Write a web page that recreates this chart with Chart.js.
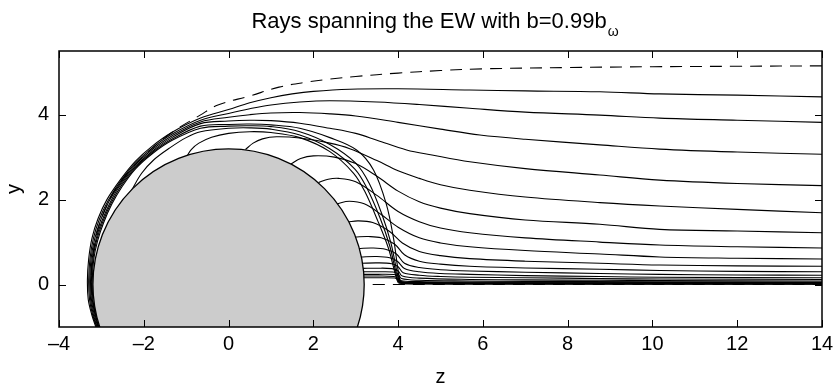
<!DOCTYPE html>
<html>
<head>
<meta charset="utf-8">
<script src="https://cdn.jsdelivr.net/npm/chart.js@4"></script>
<style>
  html, body { margin: 0; padding: 0; background: #fff; }
</style>
</head>
<body>
<canvas id="rays" width="837" height="392"></canvas>
<script>
// axis ticks
const zTicks = [-4, -2, 0, 2, 4, 6, 8, 10, 12, 14];
const yTicks = [0, 2, 4];
const throatRadius = 3.2;

// rays that go over the top and wrap round the left side
const rayL1 = [[14,4.42],[12,4.46],[10.17,4.49],[8.76,4.54],[7,4.56],[5.69,4.58],[4,4.61],[2.86,4.6],[2,4.55],[1.5,4.49],[1,4.4],[0.5,4.28],[0,4.12],
  [-0.66,3.92],[-1.34,3.58],[-1.8,3.26],[-2.2,2.9],[-2.55,2.47],[-2.87,2.0],[-3.08,1.55],[-3.22,1.1],[-3.3,0.6],[-3.33,0.1],[-3.31,-0.35],[-3.23,-0.7],[-3.13,-1.0],[-3.09,-1.1]];
const rayL2 = [[14,3.82],[12,3.87],[10.17,3.92],[8.76,3.99],[7,4.06],[5.69,4.15],[4.5,4.24],[3.5,4.3],[2.39,4.33],[1.68,4.3],[1,4.23],[0.5,4.14],[0,4.03],
  [-0.66,3.87],[-1.34,3.54],[-1.8,3.22],[-2.2,2.86],[-2.55,2.43],[-2.84,1.98],[-3.05,1.53],[-3.19,1.08],[-3.27,0.6],[-3.3,0.1],[-3.28,-0.35],[-3.21,-0.7],[-3.11,-1.0],[-3.07,-1.1]];
const rayL3 = [[14,3.07],[12,3.12],[10.17,3.19],[8.76,3.29],[7,3.42],[5.93,3.52],[5,3.66],[4,3.82],[3,3.97],[2.39,4.02],[1.68,4.05],[1,4.04],[0.5,4.0],[0,3.94],
  [-0.66,3.83],[-1.34,3.5],[-1.8,3.18],[-2.2,2.82],[-2.55,2.39],[-2.82,1.96],[-3.02,1.51],[-3.16,1.07],[-3.245,0.6],[-3.275,0.1],[-3.255,-0.35],[-3.19,-0.7],[-3.1,-1.0],[-3.06,-1.1]];
const rayL4 = [[14,2.33],[12,2.38],[10.17,2.46],[8.76,2.58],[7,2.73],[5.69,2.89],[4.8,3.05],[4.2,3.17],[3.5,3.4],[3,3.56],[2.39,3.68],[1.68,3.8],[1,3.86],[0.5,3.87],[0,3.85],
  [-0.66,3.79],[-1.34,3.46],[-1.8,3.14],[-2.2,2.78],[-2.55,2.35],[-2.79,1.94],[-2.99,1.49],[-3.13,1.06],[-3.22,0.6],[-3.255,0.1],[-3.235,-0.35],[-3.17,-0.7],[-3.08,-1.0],[-3.04,-1.1]];

// near-axis rays that jump up at z = 4
const rayS1 = [[14,0.03],[10,0.032],[6,0.036],[4.5,0.042],[4.15,0.055],[4.05,0.09],[3.99,0.4],[3.89,1.1],[3.72,1.9],[3.42,2.7],[3.02,3.17],[2.39,3.46],[1.68,3.68],[1,3.76],[0.5,3.78],[0,3.77],
  [-0.66,3.73],[-1.34,3.42],[-1.8,3.11],[-2.2,2.75],[-2.53,2.33],[-2.77,1.92],[-2.97,1.47],[-3.11,1.05],[-3.2,0.6],[-3.235,0.1],[-3.215,-0.35],[-3.15,-0.7],[-3.07,-1.0],[-3.03,-1.1]];
const rayS2 = [[14,0.02],[10,0.022],[6,0.026],[4.5,0.031],[4.13,0.043],[4.03,0.08],[3.96,0.36],[3.83,0.98],[3.62,1.65],[3.32,2.38],[3.0,2.86],[2.39,3.3],[1.68,3.6],[1,3.72],[0.5,3.74],[0,3.73],
  [-0.66,3.68],[-1.34,3.39],[-1.8,3.08],[-2.2,2.72],[-2.51,2.31],[-2.75,1.9],[-2.95,1.45],[-3.09,1.03],[-3.18,0.6],[-3.215,0.1],[-3.2,-0.35],[-3.14,-0.7],[-3.06,-1.0],[-3.02,-1.1]];
const rayS3 = [[14,0.012],[10,0.014],[6,0.017],[4.5,0.021],[4.11,0.032],[4.01,0.065],[3.94,0.32],[3.8,0.92],[3.57,1.58],[3.26,2.28],[2.98,2.72],[2.39,3.2],[1.68,3.52],[1,3.66],[0.5,3.69],[0,3.68],
  [-0.66,3.6],[-1.0,3.46],[-1.4,3.21],[-1.75,2.95],[-2.05,2.62],[-2.3,2.2]];
const rayS4 = [[14,0.006],[10,0.008],[6,0.01],[4.5,0.013],[4.09,0.022],[4.0,0.05],[3.92,0.3],[3.77,0.86],[3.52,1.5],[3.21,2.2],[2.95,2.62],[2.39,3.13],[1.68,3.46],[1,3.58],[0.5,3.6],[0,3.56],
  [-0.4,3.47],[-0.7,3.33],[-0.88,3.18],[-0.97,3.04]];

// rays that end on the right side of the throat
const rayL5 = [[14,1.69],[12,1.77],[10.17,1.85],[8.76,1.93],[7,2.06],[5.69,2.22],[5,2.35],[4.5,2.5],[4,2.68],[3.5,2.92],[2.86,3.2],[2.39,3.33],[1.68,3.45],[1.13,3.48],[0.8,3.43],[0.58,3.33],[0.4,3.18]];
const rayL6 = [[14,1.22],[12,1.26],[10.17,1.3],[8.76,1.42],[7,1.52],[5.69,1.67],[5,1.8],[4.5,1.95],[4,2.2],[3.5,2.55],[3,2.85],[2.5,3.0],[2,3.03],[1.7,2.97],[1.47,2.84]];
const rayL7 = [[14,0.86],[12,0.89],[10.17,0.93],[8.76,1.0],[7,1.1],[5.69,1.22],[5,1.33],[4.5,1.48],[4,1.72],[3.5,2.1],[3,2.42],[2.6,2.5],[2.35,2.48],[2.12,2.4]];
const rayL8 = [[14,0.6],[12,0.62],[10.17,0.65],[8.76,0.72],[7,0.8],[5.69,0.89],[5,0.98],[4.5,1.1],[4,1.35],[3.6,1.65],[3.2,1.9],[2.85,1.96],[2.55,1.9]];
const rayL9 = [[14,0.43],[12,0.44],[10.17,0.46],[8.76,0.5],[7,0.55],[5.69,0.61],[5,0.68],[4.5,0.78],[4.1,0.98],[3.8,1.25],[3.4,1.46],[3.05,1.5],[2.82,1.47]];
const rayL10 = [[14,0.3],[12,0.31],[10.17,0.33],[8.76,0.36],[7,0.39],[5.69,0.43],[5,0.48],[4.5,0.55],[4.15,0.7],[3.92,0.95],[3.6,1.1],[3.3,1.13],[2.98,1.12]];
const rayL11 = [[14,0.22],[12,0.225],[10.17,0.24],[8.76,0.26],[7,0.29],[5.69,0.32],[5,0.35],[4.5,0.4],[4.15,0.5],[3.96,0.72],[3.7,0.83],[3.4,0.86],[3.06,0.85]];
const rayL12 = [[14,0.16],[10.17,0.17],[8.76,0.19],[7,0.21],[5.69,0.24],[5,0.26],[4.5,0.3],[4.15,0.38],[3.98,0.55],[3.8,0.63],[3.5,0.66],[3.11,0.65]];
const rayL13 = [[14,0.12],[10.17,0.13],[8.76,0.14],[7,0.16],[5.69,0.17],[5,0.19],[4.5,0.22],[4.12,0.28],[4,0.42],[3.85,0.49],[3.5,0.51],[3.14,0.5]];
const rayL14 = [[14,0.085],[10.17,0.095],[8.76,0.1],[7,0.11],[5.69,0.12],[4.5,0.15],[4.1,0.2],[4,0.32],[3.85,0.375],[3.5,0.385],[3.16,0.38]];
const rayL15 = [[14,0.06],[10,0.065],[7,0.075],[5.69,0.085],[4.5,0.1],[4.08,0.14],[4,0.25],[3.88,0.295],[3.5,0.3],[3.17,0.3]];
const rayL16 = [[14,0.045],[10,0.05],[7,0.055],[5.69,0.06],[4.5,0.07],[4.06,0.095],[4,0.2],[3.9,0.235],[3.5,0.24],[3.18,0.24]];
const rayL17 = [[14,0.035],[7,0.04],[4.5,0.048],[4.05,0.07],[3.99,0.15],[3.9,0.19],[3.5,0.2],[3.18,0.2]];
const rayL18 = [[14,0.025],[7,0.028],[4.5,0.034],[4.04,0.05],[3.99,0.12],[3.92,0.155],[3.5,0.16],[3.18,0.16]];

// dashed curves: critical ray and the axis
const criticalRay = [[14,5.15],[12,5.14],[10,5.13],[8,5.11],[6,5.08],[5,5.04],[4,4.98],[3,4.9],[2.39,4.84],[1.87,4.77],[1.19,4.65],[0.5,4.44],[-0.25,4.23],[-0.67,3.99],
  [-1.34,3.58],[-2.0,3.03],[-2.6,2.35],[-2.92,1.75],[-3.12,1.15],[-3.22,0.5],[-3.24,0.0],[-3.2,-0.4],[-3.13,-0.75],[-3.07,-1.0],[-3.04,-1.1]];
const axisRay = [[3.4,0],[14,0]];

const solidRays = [rayL1, rayL2, rayL3, rayL4, rayS1, rayS2, rayS3, rayS4,
  rayL5, rayL6, rayL7, rayL8, rayL9, rayL10, rayL11, rayL12, rayL13, rayL14, rayL15, rayL16, rayL17, rayL18];
const dashedRays = [criticalRay, axisRay];

const FONT = '"Liberation Sans", Arial, Helvetica, sans-serif';
const toPts = arr => arr.map(p => ({ x: p[0], y: p[1] }));
const fmt = v => (v < 0 ? '\u2013' + Math.abs(v) : String(v));

const datasets = [];
solidRays.forEach(r => datasets.push({
  data: toPts(r), showLine: true, borderColor: '#000', borderWidth: 1.1,
  pointRadius: 0, tension: 0.35, fill: false, clip: 0
}));
dashedRays.forEach(r => datasets.push({
  data: toPts(r), showLine: true, borderColor: '#000', borderWidth: 1.1, borderDash: [12, 8],
  pointRadius: 0, tension: 0.35, fill: false, clip: 0
}));

// grey throat disc, drawn on top of the rays
const throatPlugin = {
  id: 'throat',
  afterDatasetsDraw(chart) {
    const { ctx, chartArea: a, scales: { x, y } } = chart;
    const cx = x.getPixelForValue(0), cy = y.getPixelForValue(0);
    const r = x.getPixelForValue(throatRadius) - cx;
    ctx.save();
    ctx.beginPath();
    ctx.rect(a.left, a.top, a.right - a.left, a.bottom - a.top);
    ctx.clip();
    ctx.beginPath();
    ctx.arc(cx, cy, r, 0, Math.PI * 2);
    ctx.fillStyle = '#cccccc';
    ctx.fill();
    ctx.lineWidth = 1.3;
    ctx.strokeStyle = '#000';
    ctx.stroke();
    ctx.restore();
  }
};

// box, inward ticks and title with subscript
const framePlugin = {
  id: 'frame',
  afterDraw(chart) {
    const { ctx, chartArea: a, scales: { x, y } } = chart;
    ctx.save();
    ctx.strokeStyle = '#000';
    ctx.lineWidth = 1;
    ctx.beginPath();
    zTicks.forEach(v => {
      const px = Math.round(x.getPixelForValue(v)) + 0.5;
      ctx.moveTo(px, a.bottom); ctx.lineTo(px, a.bottom - 7);
      ctx.moveTo(px, a.top); ctx.lineTo(px, a.top + 7);
    });
    yTicks.forEach(v => {
      const py = Math.round(y.getPixelForValue(v)) + 0.5;
      ctx.moveTo(a.left, py); ctx.lineTo(a.left + 7, py);
      ctx.moveTo(a.right, py); ctx.lineTo(a.right - 7, py);
    });
    ctx.stroke();
    ctx.lineWidth = 1.5;
    ctx.strokeRect(a.left, a.top, a.right - a.left, a.bottom - a.top);

    const main = 'Rays spanning the EW with b=0.99b', sub = '\u03c9';
    ctx.fillStyle = '#000';
    ctx.textBaseline = 'alphabetic';
    ctx.font = '22px ' + FONT;
    const w1 = ctx.measureText(main).width;
    ctx.font = '14px ' + FONT;
    const w2 = ctx.measureText(sub).width;
    const x0 = (a.left + a.right) / 2 - (w1 + w2) / 2 - 6;
    ctx.font = '22px ' + FONT;
    ctx.fillText(main, x0, 28);
    ctx.font = '14px ' + FONT;
    ctx.fillText(sub, x0 + w1 + 1, 36);
    ctx.restore();
  }
};

new Chart(document.getElementById('rays'), {
  type: 'scatter',
  data: { datasets },
  options: {
    responsive: false,
    animation: false,
    layout: { padding: { top: 51, right: 15, left: 0, bottom: 0 } },
    plugins: { legend: { display: false }, tooltip: { enabled: false } },
    scales: {
      x: {
        type: 'linear', min: -4, max: 14,
        afterBuildTicks: s => { s.ticks = zTicks.map(v => ({ value: v })); },
        afterFit: s => { s.height = 65; s.paddingLeft = 0; s.paddingRight = 0; },
        grid: { display: false, drawTicks: false },
        border: { display: false },
        ticks: { color: '#000', font: { size: 20, family: FONT }, padding: 5, autoSkip: false, maxRotation: 0, callback: fmt },
        title: { display: true, text: 'z', color: '#000', font: { size: 20, family: FONT }, padding: { top: 0, bottom: 3 } }
      },
      y: {
        type: 'linear', min: -1, max: 5.5,
        afterBuildTicks: s => { s.ticks = yTicks.map(v => ({ value: v })); },
        afterFit: s => { s.width = 59; s.paddingTop = 0; s.paddingBottom = 0; },
        grid: { display: false, drawTicks: false },
        border: { display: false },
        ticks: { color: '#000', font: { size: 20, family: FONT }, padding: 10, callback: fmt },
        title: { display: true, text: 'y', color: '#000', font: { size: 20, family: FONT }, padding: { top: 2, bottom: 0 } }
      }
    }
  },
  plugins: [throatPlugin, framePlugin]
});
</script>
</body>
</html>
